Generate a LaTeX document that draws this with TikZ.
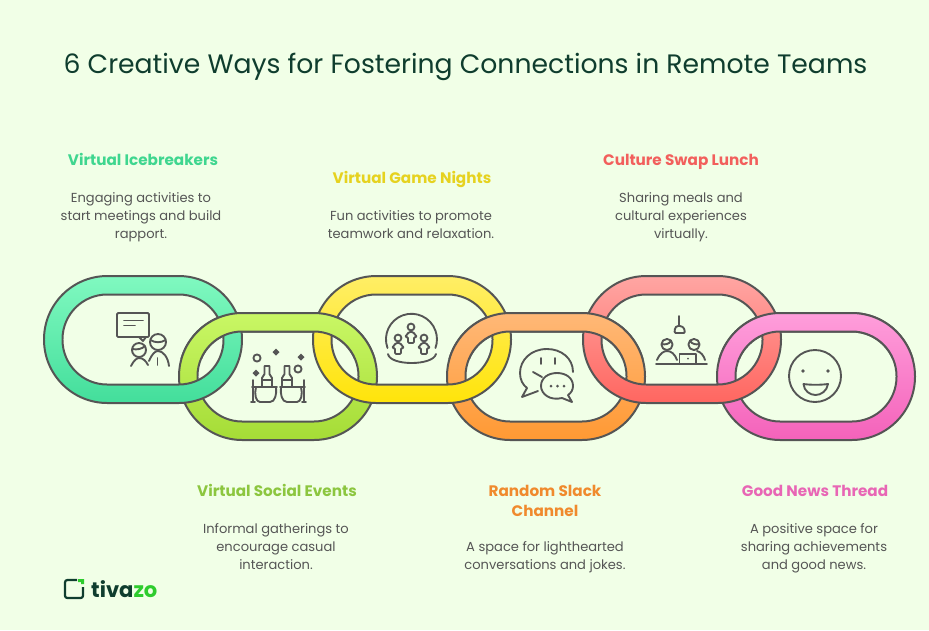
\documentclass[tikz,border=0pt]{standalone}
\usepackage{fontspec}
\setmainfont{Poppins}
\usetikzlibrary{positioning}
\definecolor{pagegreen}{HTML}{F1FFE7}
\definecolor{inkgrey}{HTML}{555555}
\definecolor{titlegreen}{HTML}{0F3D2E}
\definecolor{logogreen}{HTML}{2ECC2E}
\newcommand{\chainlink}[4]{
\path[even odd rule,top color=#3,bottom color=#4]
  [rounded corners=1.9cm] (#1,#2) rectangle ++(198,127)
  [rounded corners=1.34cm] (#1+18.5,#2+18.5) rectangle ++(161,90);
\draw[linkline,rounded corners=1.9cm] (#1,#2) rectangle ++(198,127);
\draw[linkline,rounded corners=1.34cm] (#1+18.5,#2+18.5) rectangle ++(161,90);
}
\tikzset{
  linkline/.style={draw=inkgrey,line width=1.7pt},
  iconline/.style={draw=inkgrey,line width=1.6pt,line cap=round,line join=round},
  headtext/.style={font=\fontsize{13}{17.5}\selectfont\bfseries,align=center,inner sep=0pt,anchor=base},
  bodytext/.style={font=\fontsize{11.15}{15.3}\selectfont,text=inkgrey,align=center,inner sep=0pt,anchor=north,execute at begin node=\strut},
}
\begin{document}
\begin{tikzpicture}[x=0.03cm,y=-0.03cm]
\useasboundingbox (0,0) rectangle (929,630);
\fill[pagegreen] (0,0) rectangle (929,630);

\node[font=\fontsize{22.75}{26}\selectfont,text=titlegreen,inner sep=0pt,anchor=base] (title) at (465.5,73) {6 Creative Ways for Fostering Connections in Remote Teams};

% lower links first
\foreach \xpos/\topc/\botc in {179/C9F765/A5DC36,447/FFB877/FF9933,717/FF9EDB/F462BA}{
  \definecolor{linktop}{HTML}{\topc}\definecolor{linkbot}{HTML}{\botc}
  \chainlink{\xpos}{313}{linktop}{linkbot}
}
% upper links
\foreach \xpos/\topc/\botc in {44/80F9C0/43DE9B,313/FFEE66/FFE40A,583/FFA6A3/FF6660}{
  \definecolor{linktop}{HTML}{\topc}\definecolor{linkbot}{HTML}{\botc}
  \chainlink{\xpos}{276}{linktop}{linkbot}
}
% top half of lower links goes over again
\begin{scope}
\clip (0,276) rectangle (929,358);
\foreach \xpos/\topc/\botc in {179/C9F765/A5DC36,447/FFB877/FF9933,717/FF9EDB/F462BA}{
  \definecolor{linktop}{HTML}{\topc}\definecolor{linkbot}{HTML}{\botc}
  \chainlink{\xpos}{313}{linktop}{linkbot}
}
\end{scope}

% icebreakers icon
\draw[iconline,rounded corners=1pt] (117,313) rectangle (149,337);
\draw[iconline] (124,320.5) -- (143,320.5);
\draw[iconline] (124,325.5) -- (135,325.5);
\draw[iconline] (139,337) -- (143,341) -- (146,337);
\draw[iconline] (139,350) circle [radius=7];
\draw[iconline] (158,342) circle [radius=8];
\draw[iconline] (132.5,349) .. controls (137,350) and (142,349) .. (145,346);
\draw[iconline] (150.5,340) .. controls (155,343) and (161,343) .. (165.5,340);
\draw[iconline] (131,366) .. controls (134,360) and (137,358) .. (139,358) .. controls (143,358) and (146,361) .. (148,365);
\draw[iconline] (149,361) .. controls (152,354) and (155,351) .. (158,351) .. controls (163,351) and (168,357) .. (169,366);
\draw[iconline] (157.5,358) -- (157.5,365);

% social events icon
\draw[iconline] (257,358) circle [radius=3.6];
\draw[iconline] (298,369) circle [radius=3.6];
\foreach \sx/\sy in {276/352,301/357,256/373}{
  \fill[inkgrey] (\sx,\sy-3.5) -- (\sx+3.5,\sy) -- (\sx,\sy+3.5) -- (\sx-3.5,\sy) -- cycle;
}
\foreach \bx in {267,287}{
  \draw[iconline] (\bx-5,386) -- (\bx-5,378) -- (\bx-2.5,374) -- (\bx-2.5,366) -- (\bx+2.5,366) -- (\bx+2.5,374) -- (\bx+5,378) -- (\bx+5,386);
  \draw[iconline] (\bx-5,380) -- (\bx+5,380);
}
\draw[iconline] (252,387) -- (277,387);
\draw[iconline] (280,387) -- (305,387);
\draw[iconline] (253,380) -- (253,402);
\draw[iconline] (251,402) -- (255,402);
\draw[iconline] (256,387) .. controls (254,394) and (256,402) .. (260,402) -- (270,402) .. controls (275,402) and (277,394) .. (276,387);
\draw[iconline] (281,387) .. controls (280,394) and (282,402) .. (287,402) -- (297,402) .. controls (301,402) and (303,394) .. (301,387);
\draw[iconline] (304,380) -- (304,402);
\draw[iconline] (302,402) -- (306,402);

% game nights icon
\draw[iconline] (387.5,348) arc [start angle=160,end angle=380,radius=25.5];
\draw[iconline] (388,354) .. controls (390,366) and (433,366) .. (436,354);
\foreach \px/\py in {411/327,398/338,424/338}{
  \draw[iconline] (\px,\py) circle [radius=3.4];
  \draw[iconline,rounded corners=1pt] (\px-2,\py+5) -- (\px+2,\py+5) -- (\px+6,\py+10) -- (\px+3,\py+10) -- (\px+3,\py+16) -- (\px-3,\py+16) -- (\px-3,\py+10) -- (\px-6,\py+10) -- cycle;
}

% slack icon
\draw[iconline] (573,372) .. controls (573,358) and (561,349) .. (547,349) .. controls (531,349) and (520,360) .. (520,373) .. controls (520,380) and (523,385) .. (527,388) -- (522,397) -- (538,391);
\draw[iconline] (541,358) -- (541,364);
\draw[iconline] (555,358) -- (555,364);
\draw[iconline] (533,372) -- (542,377);
\draw[iconline] (562,398) .. controls (550,401) and (541,394) .. (541,386) .. controls (541,378) and (548,373) .. (557,373) .. controls (566,373) and (573,378) .. (573,386) .. controls (573,390) and (571,393) .. (568,395) -- (572,402) -- cycle;
\foreach \dx in {551,557.5,564}{
  \fill[inkgrey] (\dx,386) circle [radius=1.5];
}

% culture swap icon
\draw[iconline] (679,316) -- (679,325);
\draw[iconline,rounded corners=1pt] (674.5,333) -- (675,328) -- (677,326) -- (681,326) -- (684,328) -- (685,333) -- cycle;
\draw[iconline] (667,344.5) circle [radius=5.6];
\draw[iconline] (694,344.5) circle [radius=5.6];
\draw[iconline] (662,344) .. controls (665,345) and (669,344) .. (671,341);
\draw[iconline] (690,341) .. controls (692,344) and (696,345) .. (699,344);
\draw[iconline] (657,360) .. controls (660,353) and (664,351) .. (667,351) .. controls (671,351) and (675,354) .. (677,360);
\draw[iconline] (697,351) .. controls (701,352) and (704,356) .. (705,360);
\draw[iconline] (679.5,363) -- (679.5,354) -- (696,354) -- (696,363);
\fill[inkgrey] (688,358.5) circle [radius=1];
\draw[iconline] (656,364) -- (707,364);

% good news icon
\draw[iconline] (815,376) circle [radius=26];
\fill[inkgrey] (803,371) circle [radius=1.8];
\fill[inkgrey] (828,371) circle [radius=1.8];
\draw[iconline] (803.5,384) .. controls (810,385) and (821,385) .. (828,384) .. controls (827,391) and (821,395) .. (815.5,395) .. controls (810,395) and (804,391) .. (803.5,384) -- cycle;

% labels
\node[headtext,text={rgb,255:red,63;green,214;blue,143}] (icebreakhead) at (143,165.5) {Virtual Icebreakers};
\node[bodytext] (icebreakbody) at (141,192) {Engaging activities to\\start meetings and build\\rapport.};
\node[headtext,text={rgb,255:red,230;green,210;blue,31}] (gamehead) at (412,183.5) {Virtual Game Nights};
\node[bodytext] (gamebody) at (411,210) {Fun activities to promote\\teamwork and relaxation.};
\node[headtext,text={rgb,255:red,242;green,95;blue,92}] (culturehead) at (681,165.5) {Culture Swap Lunch};
\node[bodytext] (culturebody) at (681,192) {Sharing meals and\\cultural experiences\\virtually.};
\node[headtext,text={rgb,255:red,140;green,198;blue,63}] (socialhead) at (277,496.5) {Virtual Social Events};
\node[bodytext] (socialbody) at (276,523) {Informal gatherings to\\encourage casual\\interaction.};
\node[headtext,text={rgb,255:red,240;green,138;blue,45}] (slackhead) at (545,516.5) {Random Slack\\Channel};
\node[bodytext] (slackbody) at (545,541) {A space for lighthearted\\conversations and jokes.};
\node[headtext,text={rgb,255:red,232;green,102;blue,181}] (newshead) at (815,496.5) {Good News Thread};
\node[bodytext] (newsbody) at (814,523) {A positive space for\\sharing achievements\\and good news.};

% logo
\draw[titlegreen,line width=1.9pt,rounded corners=2pt] (77,580) -- (65,580) -- (65,598) -- (83,598) -- (83,587);
\fill[logogreen] (78,579) -- (84,579) -- (84,584) -- (81,584) -- (81,582) -- (78,582) -- cycle;
\node[font=\fontsize{18}{20}\selectfont\bfseries,anchor=base west,inner sep=0pt] (logotext) at (91,597) {\textcolor{titlegreen}{tiva}\textcolor{logogreen}{zo}};
\end{tikzpicture}
\end{document}
